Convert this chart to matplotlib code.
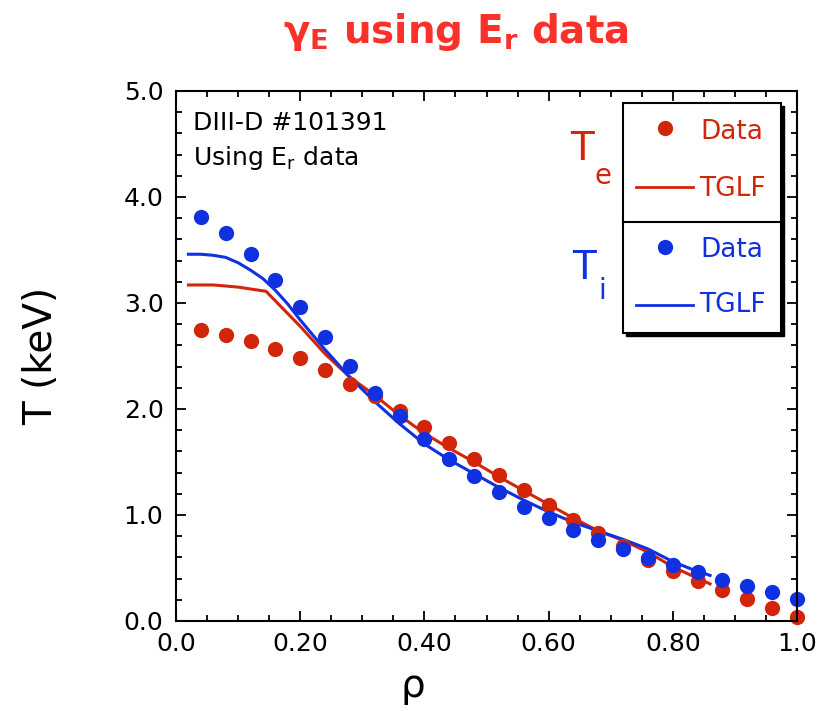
import numpy as np
import matplotlib
matplotlib.use("Agg")
import matplotlib.pyplot as plt
from matplotlib.patches import Rectangle

plt.rcParams['font.family'] = ['DejaVu Sans']
plt.rcParams['mathtext.fontset'] = 'dejavusans'

# measured profiles, DIII-D #101391
rho_data = [0.04, 0.08, 0.12, 0.16, 0.20, 0.24, 0.28, 0.32, 0.36, 0.40, 0.44, 0.48, 0.52,
            0.56, 0.60, 0.64, 0.68, 0.72, 0.76, 0.80, 0.84, 0.88, 0.92, 0.96, 1.00]
te_data = [2.75, 2.70, 2.64, 2.57, 2.48, 2.37, 2.24, 2.12, 1.98, 1.83, 1.68, 1.53, 1.38,
           1.24, 1.09, 0.95, 0.83, 0.71, 0.58, 0.47, 0.38, 0.29, 0.21, 0.12, 0.04]
ti_data = [3.81, 3.66, 3.46, 3.22, 2.96, 2.68, 2.41, 2.15, 1.93, 1.72, 1.53, 1.37, 1.22,
           1.08, 0.97, 0.86, 0.76, 0.68, 0.59, 0.53, 0.46, 0.39, 0.33, 0.27, 0.21]

# TGLF predictions
rho_te_tglf = [0.02, 0.06, 0.10, 0.145, 0.18, 0.20, 0.24, 0.28, 0.32, 0.36, 0.40, 0.44, 0.48,
               0.52, 0.56, 0.60, 0.64, 0.68, 0.72, 0.76, 0.80, 0.83, 0.86]
te_tglf = [3.17, 3.17, 3.15, 3.11, 2.90, 2.78, 2.52, 2.30, 2.13, 1.94, 1.77, 1.63, 1.50,
           1.36, 1.23, 1.10, 0.97, 0.85, 0.76, 0.65, 0.51, 0.43, 0.35]
rho_ti_tglf = [0.02, 0.04, 0.06, 0.08, 0.10, 0.12, 0.14, 0.16, 0.18, 0.20, 0.24, 0.28, 0.32,
               0.36, 0.40, 0.44, 0.48, 0.52, 0.56, 0.60, 0.64, 0.68, 0.72, 0.76, 0.80, 0.83, 0.86]
ti_tglf = [3.46, 3.46, 3.45, 3.43, 3.38, 3.31, 3.23, 3.12, 2.99, 2.84, 2.56, 2.30, 2.07,
           1.86, 1.67, 1.52, 1.39, 1.26, 1.14, 1.03, 0.93, 0.85, 0.77, 0.68, 0.56, 0.49, 0.43]

red = '#d2260a'
blue = '#1031e0'

fig = plt.figure(figsize=(8.24, 7.11), dpi=100)
ax = fig.add_axes([176/824, 90/711, 621/824, 530/711])

ax.plot(rho_te_tglf, te_tglf, color=red, lw=2.2)
ax.plot(rho_ti_tglf, ti_tglf, color=blue, lw=2.2)
ax.plot(rho_data, te_data, 'o', color=red, ms=11, mew=0, clip_on=False)
ax.plot(rho_data, ti_data, 'o', color=blue, ms=11, mew=0, clip_on=False)

ax.set_xlim(0, 1.0)
ax.set_ylim(0, 5.0)
ax.set_xticks([0, 0.2, 0.4, 0.6, 0.8, 1.0])
ax.set_xticklabels(['0.0', '0.20', '0.40', '0.60', '0.80', '1.0'])
ax.set_xticks(np.arange(0, 1.0001, 0.05), minor=True)
ax.set_yticks([0, 1, 2, 3, 4, 5])
ax.set_yticklabels(['0.0', '1.0', '2.0', '3.0', '4.0', '5.0'])
ax.set_yticks(np.arange(0, 5.0001, 0.2), minor=True)
ax.tick_params(which='both', direction='in', top=True, right=True, width=1.3, labelsize=18)
ax.tick_params(which='major', length=7)
ax.tick_params(which='minor', length=4)
ax.tick_params(axis='x', pad=8)
ax.tick_params(axis='y', pad=9)
for s in ax.spines.values():
    s.set_linewidth(1.5)

ax.set_ylabel('T (keV)', fontsize=28, va='baseline')
ax.yaxis.set_label_coords(-0.2, 0.5)
ax.set_xlabel('ρ', fontsize=28, va='baseline')
ax.xaxis.set_label_coords(0.382, -0.143)

ax.text(0.028, 0.94, 'DIII-D #101391', transform=ax.transAxes, fontsize=18, va='center')
ax.text(0.028, 0.873, r'Using E$_\mathregular{r}$ data', transform=ax.transAxes,
        fontsize=18, va='center')

# legend box with shadow
ax.add_patch(Rectangle((0.725, 0.537), 0.254, 0.434, transform=ax.transAxes,
                       facecolor='black', edgecolor='black', lw=1.0, clip_on=False, zorder=5))
ax.add_patch(Rectangle((0.720, 0.543), 0.254, 0.434, transform=ax.transAxes,
                       facecolor='white', edgecolor='black', lw=1.5, clip_on=False, zorder=6))
ax.plot([0.720, 0.974], [0.753, 0.753], transform=ax.transAxes, color='black', lw=1.5,
        clip_on=False, zorder=7)
ax.plot([0.787], [0.930], 'o', color=red, ms=11, mew=0, transform=ax.transAxes, zorder=7)
ax.plot([0.741, 0.833], [0.818, 0.818], color=red, lw=2, transform=ax.transAxes, zorder=7)
ax.plot([0.787], [0.706], 'o', color=blue, ms=11, mew=0, transform=ax.transAxes, zorder=7)
ax.plot([0.741, 0.833], [0.596, 0.596], color=blue, lw=2, transform=ax.transAxes, zorder=7)
ax.text(0.844, 0.923, 'Data', color=red, fontsize=19, va='center', transform=ax.transAxes, zorder=8)
ax.text(0.842, 0.815, 'TGLF', color=red, fontsize=19, va='center', transform=ax.transAxes, zorder=8)
ax.text(0.844, 0.700, 'Data', color=blue, fontsize=19, va='center', transform=ax.transAxes, zorder=8)
ax.text(0.842, 0.596, 'TGLF', color=blue, fontsize=19, va='center', transform=ax.transAxes, zorder=8)

ax.text(0.654, 0.891, 'T', color=red, fontsize=28, ha='center', va='center', transform=ax.transAxes)
ax.text(0.688, 0.840, 'e', color=red, fontsize=20, ha='center', va='center', transform=ax.transAxes)
ax.text(0.657, 0.666, 'T', color=blue, fontsize=28, ha='center', va='center', transform=ax.transAxes)
ax.text(0.686, 0.622, 'i', color=blue, fontsize=20, ha='center', va='center', transform=ax.transAxes)

fig.text(456/824, 1 - 43/711, r'$\mathbf{\gamma_E}$ using E$_\mathbf{r}$ data',
         color='#f8312a', fontsize=28, fontweight='bold', ha='center', va='baseline')

fig.savefig('out.png', dpi=100)
